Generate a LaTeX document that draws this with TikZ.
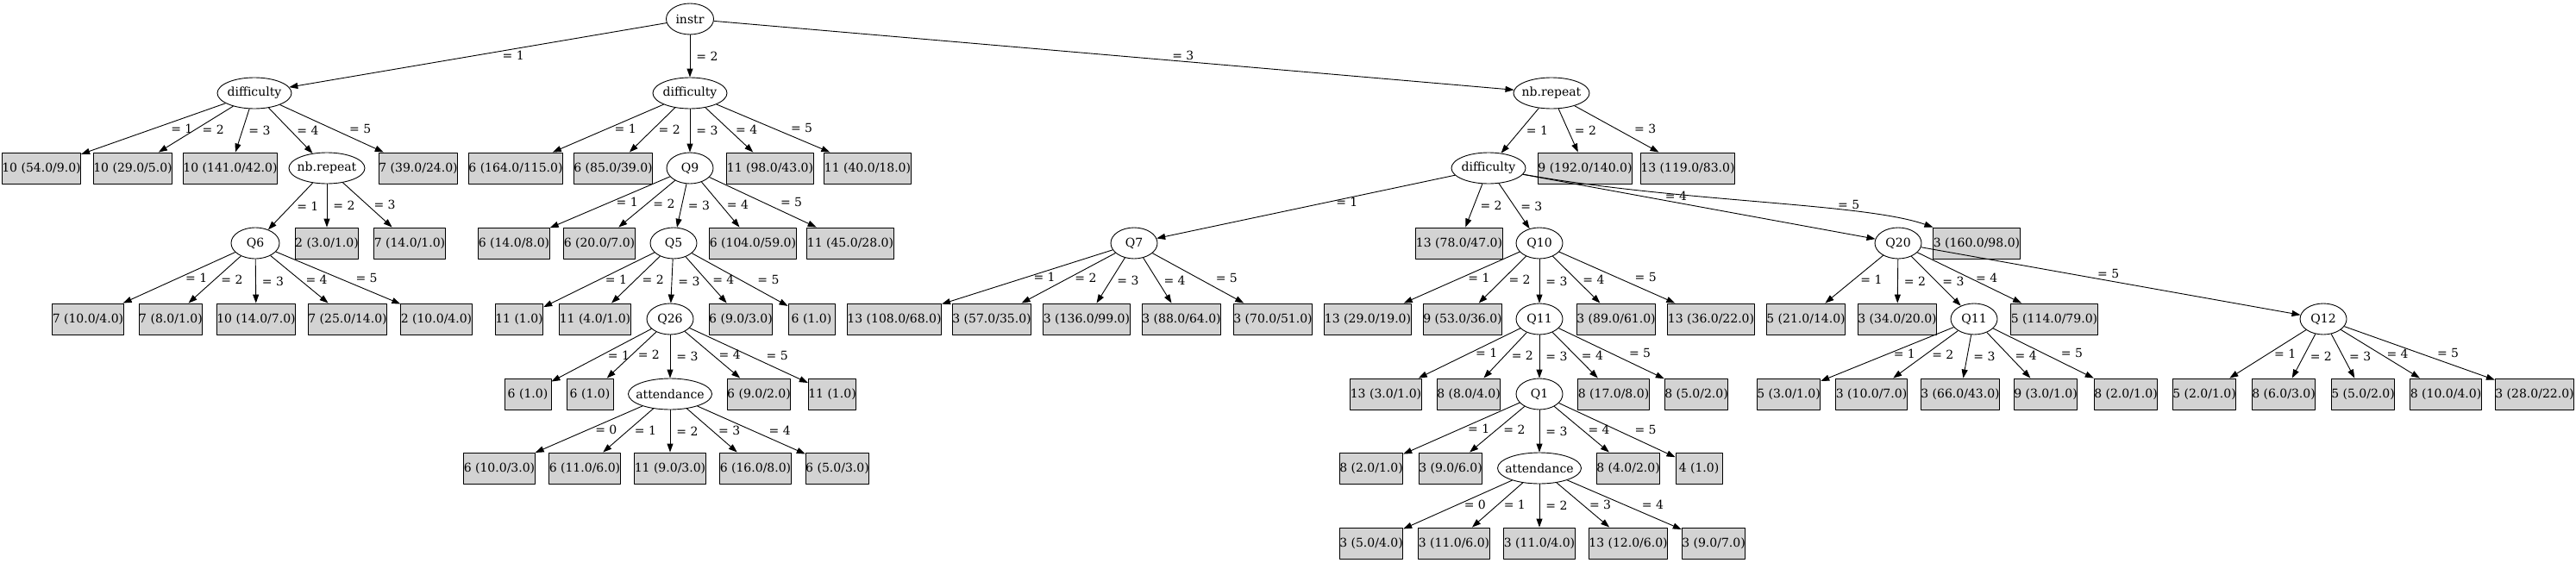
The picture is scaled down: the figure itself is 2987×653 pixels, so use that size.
\documentclass[tikz,border=0pt]{standalone}
\usepackage{fontspec}
\setmainfont{DejaVu Serif}
\usetikzlibrary{shapes.geometric,arrows.meta}
\definecolor{leafgray}{RGB}{211,211,211}
\begin{document}
\begin{tikzpicture}[x=1pt,y=-1pt,line join=round,line width=0.9pt,>={Triangle[length=10pt,width=7pt]},
  every node/.style={font=\fontsize{14}{16}\selectfont},
  qnode/.style={draw,ellipse,minimum height=36pt,minimum width=54pt,inner xsep=-10pt,inner ysep=0pt},
  leaf/.style={draw,fill=leafgray,minimum height=36pt,minimum width=54pt,inner xsep=0pt,inner ysep=0pt},
  lbl/.style={pos=.5,anchor=west,inner sep=1pt,xshift=6pt},
  lblfar/.style={lbl,xshift=13pt}]
\useasboundingbox (0,0) rectangle (2987,653);

\node[qnode,minimum width=55pt] (instr) at (800,22) {instr};
\node[qnode,minimum width=86pt] (diffA) at (295,108) {difficulty};
\node[qnode,minimum width=86pt] (diffB) at (800,108) {difficulty};
\node[qnode,minimum width=88pt] (nbrB) at (1799,108) {nb.repeat};

% instr = 1
\node[leaf] (dA1) at (48,195) {10 (54.0/9.0)};
\node[leaf] (dA2) at (154,195) {10 (29.0/5.0)};
\node[leaf] (dA3) at (267,195) {10 (141.0/42.0)};
\node[qnode,minimum width=88pt] (nbrA) at (379,195) {nb.repeat};
\node[leaf] (dA5) at (485,195) {7 (39.0/24.0)};
\node[qnode,minimum width=56pt] (qsix) at (296,282) {Q6};
\node[leaf] (nA2) at (379,282) {2 (3.0/1.0)};
\node[leaf] (nA3) at (475,282) {7 (14.0/1.0)};
\node[leaf] (sx1) at (102,370) {7 (10.0/4.0)};
\node[leaf] (sx2) at (198,370) {7 (8.0/1.0)};
\node[leaf] (sx3) at (297,370) {10 (14.0/7.0)};
\node[leaf] (sx4) at (403,370) {7 (25.0/14.0)};
\node[leaf] (sx5) at (506,370) {2 (10.0/4.0)};

% instr = 2
\node[leaf] (dB1) at (598,195) {6 (164.0/115.0)};
\node[leaf] (dB2) at (711,195) {6 (85.0/39.0)};
\node[qnode] (qnine) at (800,195) {Q9};
\node[leaf] (dB4) at (893,195) {11 (98.0/43.0)};
\node[leaf] (dB5) at (1006,195) {11 (40.0/18.0)};
\node[leaf] (nn1) at (596,282) {6 (14.0/8.0)};
\node[leaf] (nn2) at (695,282) {6 (20.0/7.0)};
\node[qnode] (qfive) at (781,282) {Q5};
\node[leaf] (nn4) at (873,282) {6 (104.0/59.0)};
\node[leaf] (nn5) at (986,282) {11 (45.0/28.0)};
\node[leaf] (fv1) at (602,370) {11 (1.0)};
\node[leaf] (fv2) at (690,370) {11 (4.0/1.0)};
\node[qnode] (qtws) at (777,370) {Q26};
\node[leaf] (fv4) at (859,370) {6 (9.0/3.0)};
\node[leaf] (fv5) at (941,370) {6 (1.0)};
\node[leaf] (ts1) at (612,457) {6 (1.0)};
\node[leaf] (ts2) at (684,457) {6 (1.0)};
\node[qnode,minimum width=97pt] (attA) at (777,457) {attendance};
\node[leaf] (ts4) at (880,457) {6 (9.0/2.0)};
\node[leaf] (ts5) at (965,457) {11 (1.0)};
\node[leaf] (aA0) at (579,543) {6 (10.0/3.0)};
\node[leaf] (aA1) at (678,543) {6 (11.0/6.0)};
\node[leaf] (aA2) at (777,543) {11 (9.0/3.0)};
\node[leaf] (aA3) at (876,543) {6 (16.0/8.0)};
\node[leaf] (aA4) at (971,543) {6 (5.0/3.0)};

% instr = 3
\node[qnode,minimum width=86pt] (diffC) at (1726,195) {difficulty};
\node[leaf] (nB2) at (1838,195) {9 (192.0/140.0)};
\node[leaf] (nB3) at (1957,195) {13 (119.0/83.0)};
\node[qnode] (qseven) at (1315,282) {Q7};
\node[leaf] (dC2) at (1692,282) {13 (78.0/47.0)};
\node[qnode] (qten) at (1785,282) {Q10};
\node[qnode] (qtwenty) at (2201,282) {Q20};
\node[leaf] (dC5) at (2292,282) {3 (160.0/98.0)};
\node[leaf] (sv1) at (1037,370) {13 (108.0/68.0)};
\node[leaf] (sv2) at (1150,370) {3 (57.0/35.0)};
\node[leaf] (sv3) at (1260,370) {3 (136.0/99.0)};
\node[leaf] (sv4) at (1370,370) {3 (88.0/64.0)};
\node[leaf] (sv5) at (1476,370) {3 (70.0/51.0)};
\node[leaf] (tn1) at (1586,370) {13 (29.0/19.0)};
\node[leaf] (tn2) at (1696,370) {9 (53.0/36.0)};
\node[qnode] (qelvA) at (1785,370) {Q11};
\node[leaf] (tn4) at (1874,370) {3 (89.0/61.0)};
\node[leaf] (tn5) at (1984,370) {13 (36.0/22.0)};
\node[leaf] (ea1) at (1607,457) {13 (3.0/1.0)};
\node[leaf] (ea2) at (1703,457) {8 (8.0/4.0)};
\node[qnode] (qone) at (1785,457) {Q1};
\node[leaf] (ea4) at (1871,457) {8 (17.0/8.0)};
\node[leaf] (ea5) at (1967,457) {8 (5.0/2.0)};
\node[leaf] (on1) at (1590,543) {8 (2.0/1.0)};
\node[leaf] (on2) at (1682,543) {3 (9.0/6.0)};
\node[qnode,minimum width=97pt] (attB) at (1785,543) {attendance};
\node[leaf] (on4) at (1888,543) {8 (4.0/2.0)};
\node[leaf] (on5) at (1970,543) {4 (1.0)};
\node[leaf] (aB0) at (1590,630) {3 (5.0/4.0)};
\node[leaf] (aB1) at (1686,630) {3 (11.0/6.0)};
\node[leaf] (aB2) at (1785,630) {3 (11.0/4.0)};
\node[leaf] (aB3) at (1888,630) {13 (12.0/6.0)};
\node[leaf] (aB4) at (1987,630) {3 (9.0/7.0)};
\node[leaf] (tw1) at (2094,370) {5 (21.0/14.0)};
\node[leaf] (tw2) at (2200,370) {3 (34.0/20.0)};
\node[qnode] (qelvB) at (2289,370) {Q11};
\node[leaf] (tw4) at (2382,370) {5 (114.0/79.0)};
\node[qnode] (qtwelve) at (2694,370) {Q12};
\node[leaf] (eb1) at (2074,457) {5 (3.0/1.0)};
\node[leaf] (eb2) at (2170,457) {3 (10.0/7.0)};
\node[leaf] (eb3) at (2273,457) {3 (66.0/43.0)};
\node[leaf] (eb4) at (2372,457) {9 (3.0/1.0)};
\node[leaf] (eb5) at (2465,457) {8 (2.0/1.0)};
\node[leaf] (tl1) at (2556,457) {5 (2.0/1.0)};
\node[leaf] (tl2) at (2648,457) {8 (6.0/3.0)};
\node[leaf] (tl3) at (2740,457) {5 (5.0/2.0)};
\node[leaf] (tl4) at (2836,457) {8 (10.0/4.0)};
\node[leaf] (tl5) at (2939,457) {3 (28.0/22.0)};

\draw[->] (instr) -- node[lbl,pos=.42,anchor=north,xshift=0pt] {= 1} (diffA);
\draw[->] (instr) -- node[lbl,xshift=0pt] {= 2} (diffB);
\draw[->] (instr) -- node[lbl,pos=.58,anchor=south,xshift=0pt] {= 3} (nbrB);

\draw[->] (diffA) -- node[lblfar] {= 1} (dA1);
\draw[->] (diffA) -- node[lbl] {= 2} (dA2);
\draw[->] (diffA) -- node[lbl] {= 3} (dA3);
\draw[->] (diffA) -- node[lbl] {= 4} (nbrA);
\draw[->] (diffA) -- node[lblfar] {= 5} (dA5);
\draw[->] (nbrA) -- node[lbl] {= 1} (qsix);
\draw[->] (nbrA) -- node[lbl] {= 2} (nA2);
\draw[->] (nbrA) -- node[lbl] {= 3} (nA3);
\draw[->] (qsix) -- node[lbl] {= 1} (sx1);
\draw[->] (qsix) -- node[lbl] {= 2} (sx2);
\draw[->] (qsix) -- node[lbl] {= 3} (sx3);
\draw[->] (qsix) -- node[lbl] {= 4} (sx4);
\draw[->] (qsix) -- node[lblfar] {= 5} (sx5);

\draw[->] (diffB) -- node[lbl] {= 1} (dB1);
\draw[->] (diffB) -- node[lbl] {= 2} (dB2);
\draw[->] (diffB) -- node[lbl,xshift=0pt] {= 3} (qnine);
\draw[->] (diffB) -- node[lbl] {= 4} (dB4);
\draw[->] (diffB) -- node[lblfar] {= 5} (dB5);
\draw[->] (qnine) -- node[lbl] {= 1} (nn1);
\draw[->] (qnine) -- node[lbl] {= 2} (nn2);
\draw[->] (qnine) -- node[lbl] {= 3} (qfive);
\draw[->] (qnine) -- node[lbl] {= 4} (nn4);
\draw[->] (qnine) -- node[lblfar] {= 5} (nn5);
\draw[->] (qfive) -- node[lbl] {= 1} (fv1);
\draw[->] (qfive) -- node[lbl] {= 2} (fv2);
\draw[->] (qfive) -- node[lbl] {= 3} (qtws);
\draw[->] (qfive) -- node[lbl] {= 4} (fv4);
\draw[->] (qfive) -- node[lblfar] {= 5} (fv5);
\draw[->] (qtws) -- node[lbl] {= 1} (ts1);
\draw[->] (qtws) -- node[lbl] {= 2} (ts2);
\draw[->] (qtws) -- node[lbl] {= 3} (attA);
\draw[->] (qtws) -- node[lbl] {= 4} (ts4);
\draw[->] (qtws) -- node[lblfar] {= 5} (ts5);
\draw[->] (attA) -- node[lbl] {= 0} (aA0);
\draw[->] (attA) -- node[lbl] {= 1} (aA1);
\draw[->] (attA) -- node[lbl] {= 2} (aA2);
\draw[->] (attA) -- node[lbl] {= 3} (aA3);
\draw[->] (attA) -- node[lblfar] {= 4} (aA4);

\draw[->] (nbrB) -- node[lbl] {= 1} (diffC);
\draw[->] (nbrB) -- node[lbl] {= 2} (nB2);
\draw[->] (nbrB) -- node[lblfar] {= 3} (nB3);
\draw[->] (diffC) -- node[lbl,pos=.42] {= 1} (qseven);
\draw[->] (diffC) -- node[lbl] {= 2} (dC2);
\draw[->] (diffC) -- node[lbl] {= 3} (qten);
\draw[->] (diffC) -- node[lbl,pos=.42,anchor=south,xshift=0pt] {= 4} (qtwenty);
\draw[->] (diffC) .. controls (1950,235) and (2160,235) .. node[lbl,pos=.7,anchor=south,xshift=0pt] {= 5} (dC5.north west);
\draw[->] (qseven) -- node[lbl] {= 1} (sv1);
\draw[->] (qseven) -- node[lbl] {= 2} (sv2);
\draw[->] (qseven) -- node[lbl] {= 3} (sv3);
\draw[->] (qseven) -- node[lbl] {= 4} (sv4);
\draw[->] (qseven) -- node[lblfar] {= 5} (sv5);
\draw[->] (qten) -- node[lbl] {= 1} (tn1);
\draw[->] (qten) -- node[lbl] {= 2} (tn2);
\draw[->] (qten) -- node[lbl] {= 3} (qelvA);
\draw[->] (qten) -- node[lbl] {= 4} (tn4);
\draw[->] (qten) -- node[lblfar] {= 5} (tn5);
\draw[->] (qelvA) -- node[lbl] {= 1} (ea1);
\draw[->] (qelvA) -- node[lbl] {= 2} (ea2);
\draw[->] (qelvA) -- node[lbl] {= 3} (qone);
\draw[->] (qelvA) -- node[lbl] {= 4} (ea4);
\draw[->] (qelvA) -- node[lblfar] {= 5} (ea5);
\draw[->] (qone) -- node[lbl] {= 1} (on1);
\draw[->] (qone) -- node[lbl] {= 2} (on2);
\draw[->] (qone) -- node[lbl] {= 3} (attB);
\draw[->] (qone) -- node[lbl] {= 4} (on4);
\draw[->] (qone) -- node[lblfar] {= 5} (on5);
\draw[->] (attB) -- node[lbl] {= 0} (aB0);
\draw[->] (attB) -- node[lbl] {= 1} (aB1);
\draw[->] (attB) -- node[lbl] {= 2} (aB2);
\draw[->] (attB) -- node[lbl] {= 3} (aB3);
\draw[->] (attB) -- node[lblfar] {= 4} (aB4);
\draw[->] (qtwenty) -- node[lbl] {= 1} (tw1);
\draw[->] (qtwenty) -- node[lbl] {= 2} (tw2);
\draw[->] (qtwenty) -- node[lbl] {= 3} (qelvB);
\draw[->] (qtwenty) -- node[lbl] {= 4} (tw4);
\draw[->] (qtwenty) -- node[lbl,pos=.48,anchor=south,xshift=0pt] {= 5} (qtwelve);
\draw[->] (qelvB) -- node[lbl] {= 1} (eb1);
\draw[->] (qelvB) -- node[lbl] {= 2} (eb2);
\draw[->] (qelvB) -- node[lbl] {= 3} (eb3);
\draw[->] (qelvB) -- node[lbl] {= 4} (eb4);
\draw[->] (qelvB) -- node[lblfar] {= 5} (eb5);
\draw[->] (qtwelve) -- node[lbl] {= 1} (tl1);
\draw[->] (qtwelve) -- node[lbl] {= 2} (tl2);
\draw[->] (qtwelve) -- node[lbl] {= 3} (tl3);
\draw[->] (qtwelve) -- node[lbl] {= 4} (tl4);
\draw[->] (qtwelve) -- node[lblfar] {= 5} (tl5);
\end{tikzpicture}
\end{document}
